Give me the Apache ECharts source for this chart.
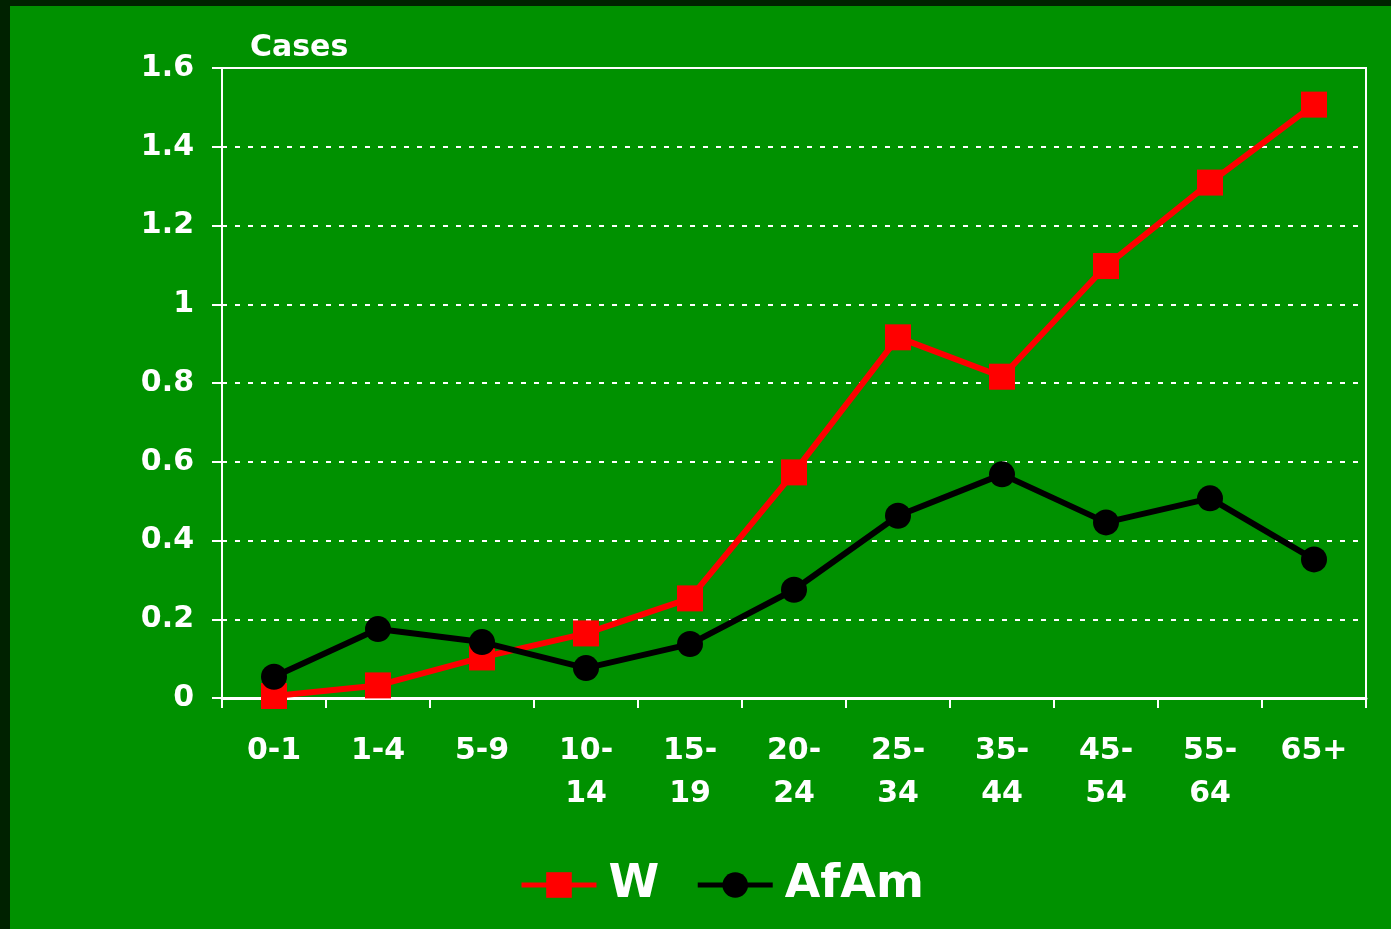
<!DOCTYPE html>
<html>
<head>
<meta charset="utf-8">
<script src="https://cdn.jsdelivr.net/npm/echarts@6/dist/echarts.min.js"></script>
<style>
html, body { margin: 0; padding: 0; width: 1391px; height: 929px; background: #002200; overflow: hidden; }
#chart { position: absolute; left: 10px; top: 6px; width: 1381px; height: 923px; background: #009100; }
</style>
</head>
<body>
<div id="chart"></div>
<script>
const categories = ['0-1', '1-4', '5-9', '10-\n14', '15-\n19', '20-\n24', '25-\n34', '35-\n44', '45-\n54', '55-\n64', '65+'];
const wValues = [0.005, 0.032, 0.103, 0.164, 0.253, 0.573, 0.916, 0.816, 1.097, 1.309, 1.507];
const afamValues = [0.054, 0.175, 0.142, 0.076, 0.137, 0.275, 0.463, 0.568, 0.446, 0.507, 0.352];
const yTicks = { min: 0, max: 1.6, interval: 0.2 };

const font = 'DejaVu Sans';
const chart = echarts.init(document.getElementById('chart'), null, { renderer: 'canvas' });
chart.setOption({
  animation: false,
  backgroundColor: '#009100',
  title: {
    text: 'Cases',
    left: 235, top: 22,
    textStyle: { color: '#fff', fontFamily: font, fontWeight: 'bold', fontSize: 30 }
  },
  legend: {
    left: 504, top: 851,
    itemWidth: 75, itemHeight: 32, itemGap: 36,
    lineStyle: { width: 5 },
    textStyle: { color: '#fff', fontFamily: font, fontWeight: 'bold', fontSize: 46, padding: [0, 0, 0, 7] },
    data: ['W', 'AfAm']
  },
  grid: {
    left: 212, top: 62, width: 1144, height: 630,
    show: true, borderColor: '#fff', borderWidth: 2, backgroundColor: 'transparent'
  },
  xAxis: {
    type: 'category',
    data: categories,
    boundaryGap: true,
    axisLine: { lineStyle: { color: '#fff', width: 3 } },
    axisTick: { show: true, length: 10, lineStyle: { color: '#fff', width: 2 }, alignWithLabel: false },
    axisLabel: { color: '#fff', fontFamily: font, fontWeight: 'bold', fontSize: 30, margin: 32, lineHeight: 43, interval: 0 },
    splitLine: { show: false }
  },
  yAxis: {
    type: 'value',
    min: yTicks.min, max: yTicks.max, interval: yTicks.interval,
    axisLine: { show: true, lineStyle: { color: '#fff', width: 2 } },
    axisTick: { show: true, length: 10, lineStyle: { color: '#fff', width: 2 } },
    axisLabel: { color: '#fff', fontFamily: font, fontWeight: 'bold', fontSize: 30, margin: 28,
      formatter: v => (Math.round(v * 10) / 10).toString() },
    splitLine: { show: true, lineStyle: { color: '#fff', width: 2, type: [5, 8] } }
  },
  series: [
    {
      name: 'W', type: 'line', data: wValues,
      symbol: 'rect', symbolSize: 26,
      lineStyle: { color: '#ff0000', width: 6 },
      itemStyle: { color: '#ff0000' },
      z: 3
    },
    {
      name: 'AfAm', type: 'line', data: afamValues,
      symbol: 'circle', symbolSize: 26,
      lineStyle: { color: '#000000', width: 6 },
      itemStyle: { color: '#000000' },
      z: 4
    }
  ]
});
</script>
</body>
</html>
